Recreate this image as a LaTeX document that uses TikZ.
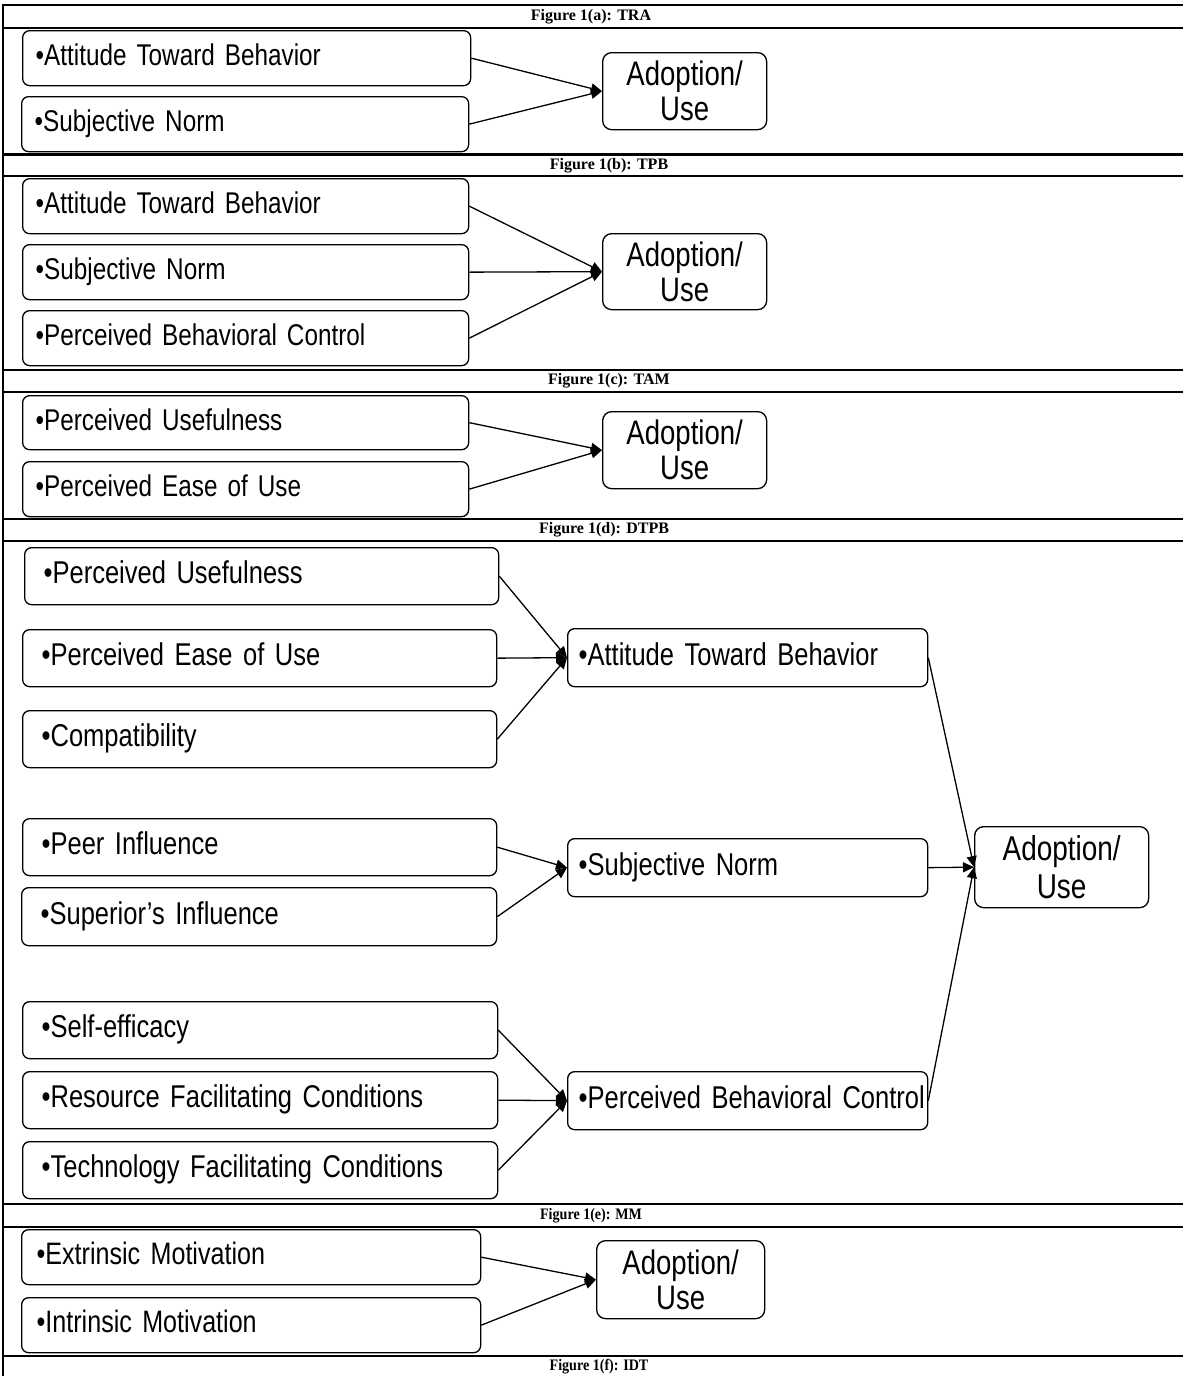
\documentclass[tikz,border=0pt]{standalone}
\usepackage{fontspec}
\setmainfont{Liberation Serif}
\newfontfamily\boxfont[FakeStretch=0.81]{Liberation Sans}
\newfontfamily\hdrcond[FakeStretch=0.88]{Liberation Serif}
\newcommand\bxf[1]{\boxfont\fontsize{#1}{#1}\selectfont\fontdimen2\font=0.19em\fontdimen3\font=0pt\fontdimen4\font=0pt}
\usetikzlibrary{arrows.meta}
\begin{document}
\begin{tikzpicture}[x=1pt,y=-1pt,
 tline/.style={line width=2.2pt},
 item/.style={draw, line width=1.3pt, rounded corners=7pt, anchor=north west, inner xsep=13pt, inner ysep=0pt, align=left, text height=22.5pt, text depth=7.5pt, font=\bxf{30}},
 itemd/.style={item, text height=23pt, text depth=7.5pt, font=\bxf{31.5}},
 adopt/.style={draw, line width=1.3pt, rounded corners=9pt, anchor=north west, inner sep=0pt, align=center, font=\boxfont\fontsize{34}{35}\selectfont},
 hdr/.style={font=\bfseries\fontsize{16}{17}\selectfont, inner sep=0pt},
 hdrc/.style={font=\hdrcond\bfseries\fontsize{16}{17}\selectfont, inner sep=0pt},
 arr/.style={line width=1.3pt, -{Triangle[length=11pt,width=10pt]}},
]
\useasboundingbox (0,0) rectangle (1183,1376);
% table rules
\draw[tline] (3,4) -- (3,1376);
\foreach \yy in {5,28,154.5,176,370,392,519,541,1204,1227,1356}
  \draw[tline] (2,\yy) -- (1183,\yy);
% headers
\node[hdr] (ha) at (591,16.5) {Figure 1(a): TRA};
\node[hdr] (hb) at (609,166) {Figure 1(b): TPB};
\node[hdr] (hc) at (609,381) {Figure 1(c): TAM};
\node[hdr] (hd) at (604,530) {Figure 1(d): DTPB};
\node[hdrc] (he) at (591,1215.5) {Figure 1(e): MM};
\node[hdrc] (hf) at (599,1367) {Figure 1(f): IDT};
% (a) TRA
\node[item, text width=422pt, minimum height=55pt] (a1) at (22,30) {\mbox{•Attitude Toward Behavior}};
\node[item, text width=421pt, minimum height=55pt] (a2) at (21,96) {\mbox{•Subjective Norm}};
\node[adopt, text width=164pt, minimum height=77pt] (aA) at (602,52) {Adoption/\\Use};
\draw[arr] (a1.east) -- (aA.west);
\draw[arr] (a2.east) -- (aA.west);
% (b) TPB
\node[item, text width=420pt, minimum height=55pt] (b1) at (22,178) {\mbox{•Attitude Toward Behavior}};
\node[item, text width=420pt, minimum height=55pt] (b2) at (22,244) {\mbox{•Subjective Norm}};
\node[item, text width=420pt, minimum height=55pt] (b3) at (22,310) {\mbox{•Perceived Behavioral Control}};
\node[adopt, text width=164pt, minimum height=76pt] (bA) at (602,233) {Adoption/\\Use};
\draw[arr] (b1.east) -- (bA.west);
\draw[arr] (b2.east) -- (bA.west);
\draw[arr] (b3.east) -- (bA.west);
% (c) TAM
\node[item, text width=420pt, minimum height=54pt] (c1) at (22,395) {\mbox{•Perceived Usefulness}};
\node[item, text width=420pt, minimum height=55pt] (c2) at (22,461) {\mbox{•Perceived Ease of Use}};
\node[adopt, text width=164pt, minimum height=77pt] (cA) at (602,411) {Adoption/\\Use};
\draw[arr] (c1.east) -- (cA.west);
\draw[arr] (c2.east) -- (cA.west);
% (d) DTPB
\node[itemd, inner xsep=19pt, text width=436pt, minimum height=57pt] (d1) at (24,547) {\mbox{•Perceived Usefulness}};
\node[itemd, inner xsep=19pt, text width=436pt, minimum height=57pt] (d2) at (22,629) {\mbox{•Perceived Ease of Use}};
\node[itemd, inner xsep=19pt, text width=436pt, minimum height=57pt] (d3) at (22,710) {\mbox{•Compatibility}};
\node[itemd, inner xsep=19pt, text width=436pt, minimum height=57pt] (d4) at (22,818) {\mbox{•Peer Influence}};
\node[itemd, inner xsep=19pt, text width=437pt, minimum height=58pt] (d5) at (21,887) {\mbox{•Superior’s Influence}};
\node[itemd, inner xsep=19pt, text width=437pt, minimum height=57pt] (d6) at (22,1001) {\mbox{•Self-efficacy}};
\node[itemd, inner xsep=19pt, text width=437pt, minimum height=57pt] (d7) at (22,1071) {\mbox{•Resource Facilitating Conditions}};
\node[itemd, inner xsep=19pt, text width=437pt, minimum height=57pt] (d8) at (22,1141) {\mbox{•Technology Facilitating Conditions}};
\node[itemd, inner xsep=11pt, text width=338pt, minimum height=58pt] (dATB) at (567,628) {\mbox{•Attitude Toward Behavior}};
\node[itemd, inner xsep=11pt, text width=338pt, minimum height=58pt] (dSN) at (567,838) {\mbox{•Subjective Norm}};
\node[itemd, inner xsep=11pt, text width=338pt, minimum height=58pt] (dPBC) at (567,1071) {\mbox{•Perceived Behavioral Control}};
\node[adopt, text width=174pt, minimum height=81pt, font=\boxfont\fontsize{34.5}{38}\selectfont] (dA) at (974,826) {Adoption/\\Use};
\draw[arr] (d1.east) -- (dATB.west);
\draw[arr] (d2.east) -- (dATB.west);
\draw[arr] (d3.east) -- (dATB.west);
\draw[arr] (d4.east) -- (dSN.west);
\draw[arr] (d5.east) -- (dSN.west);
\draw[arr] (d6.east) -- (dPBC.west);
\draw[arr] (d7.east) -- (dPBC.west);
\draw[arr] (d8.east) -- (dPBC.west);
\draw[arr] (dATB.east) -- (dA.west);
\draw[arr] (dSN.east) -- (dA.west);
\draw[arr] (dPBC.east) -- (dA.west);
% (e) MM
\node[item, inner xsep=15pt, text width=429pt, minimum height=55pt, font=\bxf{31}] (e1) at (21,1229) {\mbox{•Extrinsic Motivation}};
\node[item, inner xsep=15pt, text width=429pt, minimum height=55pt, font=\bxf{31}] (e2) at (21,1297) {\mbox{•Intrinsic Motivation}};
\node[adopt, text width=168pt, minimum height=78pt] (eA) at (596,1240) {Adoption/\\Use};
\draw[arr] (e1.east) -- (eA.west);
\draw[arr] (e2.east) -- (eA.west);
\end{tikzpicture}
\end{document}
